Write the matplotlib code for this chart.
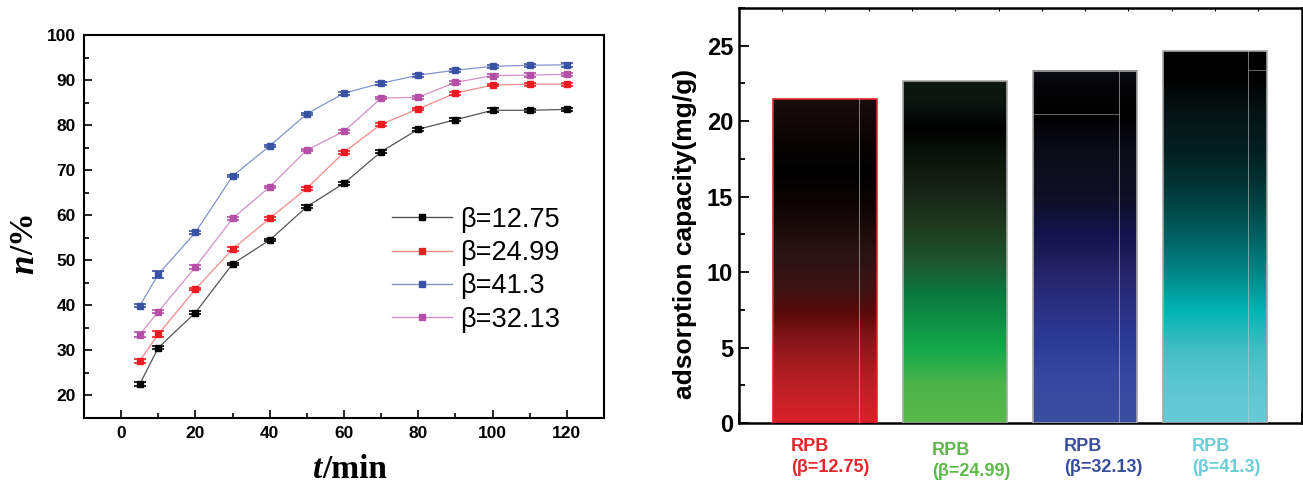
import numpy as np
import matplotlib
matplotlib.use("Agg")
import matplotlib.pyplot as plt
from matplotlib.ticker import MultipleLocator
from matplotlib.colors import to_rgba
from matplotlib.lines import Line2D

# ---------------- data ----------------
time_min = [5, 10, 20, 30, 40, 50, 60, 70, 80, 90, 100, 110, 120]
eta_1275 = [22.5, 30.6, 38.4, 49.2, 54.5, 61.9, 67.1, 74.1, 79.1, 81.2, 83.3, 83.3, 83.5]
eta_2499 = [27.7, 33.6, 43.6, 52.5, 59.3, 66.0, 74.0, 80.2, 83.6, 87.1, 88.9, 89.1, 89.1]
eta_413 = [39.9, 46.9, 56.2, 68.7, 75.4, 82.5, 87.1, 89.3, 91.1, 92.2, 93.05, 93.3, 93.4]
eta_3213 = [33.5, 38.6, 48.5, 59.3, 66.3, 74.5, 78.6, 86.0, 86.2, 89.5, 91.0, 91.1, 91.3]
err_1275 = [0.5, 0.3, 0.3, 0.3, 0.3, 0.3, 0.3, 0.3, 0.3, 0.3, 0.4, 0.3, 0.4]
err_2499 = [0.4, 0.6, 0.3, 0.4, 0.3, 0.3, 0.3, 0.3, 0.3, 0.3, 0.3, 0.3, 0.3]
err_413 = [0.3, 0.8, 0.3, 0.3, 0.3, 0.3, 0.3, 0.3, 0.3, 0.3, 0.4, 0.3, 0.4]
err_3213 = [0.5, 0.3, 0.5, 0.3, 0.3, 0.3, 0.3, 0.3, 0.3, 0.3, 0.4, 0.4, 0.3]
series_labels = ["β=12.75", "β=24.99", "β=41.3", "β=32.13"]

bar_labels = ["RPB\n(β=12.75)", "RPB\n(β=24.99)", "RPB\n(β=32.13)", "RPB\n(β=41.3)"]
capacity = [21.45, 22.63, 23.35, 24.63]

# ---------------- style ----------------
SANS = ["Liberation Sans", "DejaVu Sans"]
SERIF = ["Liberation Serif", "DejaVu Serif"]
plt.rcParams["font.family"] = SANS

marker_cols = ["#000000", "#ed1c24", "#3a52a4", "#b44ea6"]
line_cols = ["#555555", "#f58a8a", "#8393cc", "#d38fcb"]

fig = plt.figure(figsize=(13.03, 4.87), dpi=100)

# ---------------- left panel ----------------
ax1 = fig.add_axes([0.0645, 0.1417, 0.399, 0.7863])
ys = [eta_1275, eta_2499, eta_413, eta_3213]
es = [err_1275, err_2499, err_413, err_3213]
handles = []
for y, e, mc, lc, lab in zip(ys, es, marker_cols, line_cols, series_labels):
    ax1.plot(time_min, y, color=lc, lw=0.9, zorder=2)
    ax1.errorbar(time_min, y, yerr=e, fmt="s", ms=4.5, color=mc, ecolor=mc,
                 elinewidth=1.0, capsize=4, capthick=1.2, zorder=3)
    handles.append(Line2D([], [], color=lc, lw=1.0, marker="s", ms=5,
                          markerfacecolor=mc, markeredgecolor=mc))
ax1.set_xlim(-10, 130)
ax1.set_ylim(15, 100)
ax1.xaxis.set_major_locator(MultipleLocator(20))
ax1.xaxis.set_minor_locator(MultipleLocator(10))
ax1.yaxis.set_major_locator(MultipleLocator(10))
ax1.yaxis.set_minor_locator(MultipleLocator(5))
ax1.tick_params(which="both", direction="in", width=1.2)
ax1.tick_params(which="major", length=6, labelsize=12.5, pad=6)
ax1.tick_params(which="minor", length=3.5)
for lb in ax1.get_xticklabels() + ax1.get_yticklabels():
    lb.set_fontweight("bold")
for s in ax1.spines.values():
    s.set_linewidth(1.5)

# axis titles built with mixed italic
fig.text(0.2475, 0.018, "t", fontsize=24, fontweight="bold", style="italic",
         family=SERIF, ha="right", va="baseline")
fig.text(0.2475, 0.018, "/min", fontsize=24, fontweight="bold",
         family=SERIF, ha="left", va="baseline")
fig.text(0.019, 0.477, "n", fontsize=25, fontweight="bold", style="italic",
         family=SERIF, rotation=90, ha="center", va="top")
fig.text(0.019, 0.477, "/%", fontsize=24, fontweight="bold",
         family=SERIF, rotation=90, ha="center", va="bottom")

leg = ax1.legend(handles, series_labels, loc="upper left",
                 bbox_to_anchor=(0.572, 0.58), frameon=False, fontsize=19.5,
                 handlelength=2.2, handletextpad=0.3, labelspacing=0.27,
                 borderaxespad=0)

# ---------------- right panel ----------------
ax2 = fig.add_axes([0.567, 0.1314, 0.432, 0.8522])
xpos = np.arange(1, len(capacity) + 1)
edge_cols = ["#e0242c", "#a8a8a8", "#a8a8a8", "#a8a8a8"]
bars = ax2.bar(xpos, capacity, width=0.8, color="none", edgecolor=edge_cols,
               linewidth=1.2, zorder=3)

grad_stops = [
    [(0, "#d9222a"), (3, "#b41e24"), (5.5, "#86161a"), (7.3, "#5a0a0a"),
     (9, "#3c1414"), (11.5, "#261212"), (14, "#120606"), (16.5, "#000000"),
     (18.5, "#080404"), (21.5, "#1c0c0e")],
    [(0, "#5ab94a"), (2.5, "#4cb44a"), (5, "#12a84a"), (7, "#0e8c45"),
     (8.5, "#0a7a3f"), (10.5, "#1d5830"), (13, "#1f3a1f"), (16, "#141e14"),
     (18, "#0a100a"), (19.5, "#000000"), (21, "#0a120e"), (22.7, "#0f1a12")],
    [(0, "#3a4ea0"), (3, "#36489e"), (5, "#2c3d98"), (8, "#2a2e80"),
     (10, "#242466"), (12.5, "#14124a"), (15, "#0f0f24"), (18, "#0c0c18"),
     (20.5, "#000000"), (22.3, "#050508"), (23.4, "#0c0c16")],
    [(0, "#68ccd8"), (3, "#58c5cd"), (5, "#40bdc2"), (7.5, "#00b4b4"),
     (9, "#009696"), (11.5, "#006e6e"), (14, "#004a4a"), (16, "#033232"),
     (18, "#041f1f"), (20.5, "#061414"), (23, "#000000"), (24.7, "#000000")],
]

for b, stops in zip(bars, grad_stops):
    x0, w, h = b.get_x(), b.get_width(), b.get_height()
    yy = np.linspace(0, h, 400)
    sv = np.array([s[0] for s in stops])
    cols = np.array([to_rgba(s[1]) for s in stops])
    img = np.zeros((len(yy), 1, 4))
    for k in range(4):
        img[:, 0, k] = np.interp(yy, sv, cols[:, k])
    ax2.imshow(img, extent=[x0, x0 + w, 0, h], origin="lower", aspect="auto",
               interpolation="bilinear", zorder=2)

# thin light seams inside some bars (as in the original artwork)
seam_frac = [0.82, None, 0.83, 0.82]
for b, f in zip(bars, seam_frac):
    if f is None:
        continue
    x0, w, h = b.get_x(), b.get_width(), b.get_height()
    ax2.plot([x0 + f * w] * 2, [0, h], color="#c8c8c8", lw=0.7, alpha=0.6, zorder=4)
b = bars[2]
ax2.plot([b.get_x(), b.get_x() + 0.83 * b.get_width()], [0.878 * b.get_height()] * 2,
         color="#aaaaaa", lw=0.7, alpha=0.6, zorder=4)
b = bars[3]
ax2.plot([b.get_x() + 0.82 * b.get_width(), b.get_x() + b.get_width()],
         [0.95 * b.get_height()] * 2, color="#aaaaaa", lw=0.7, alpha=0.6, zorder=4)

ax2.set_xlim(1 / 3, 4 + 2 / 3)
ax2.set_ylim(0, 27.5)
ax2.xaxis.set_major_locator(MultipleLocator(1 / 3))
ax2.yaxis.set_major_locator(MultipleLocator(5))
ax2.yaxis.set_minor_locator(MultipleLocator(2.5))
ax2.tick_params(axis="x", which="both", direction="in", length=7, width=1.3,
                labelbottom=False, top=True)
ax2.tick_params(axis="y", which="both", direction="in", width=1.3)
ax2.tick_params(axis="y", which="major", length=7, labelsize=17, pad=4)
ax2.tick_params(axis="y", which="minor", length=4)
for t in ax2.xaxis.get_major_ticks():
    t.tick2line.set_markersize(2.5)
    t.tick2line.set_markeredgewidth(0.8)
for lb in ax2.get_yticklabels():
    lb.set_fontweight("bold")
for s in ax2.spines.values():
    s.set_linewidth(1.8)
ax2.set_ylabel("adsorption capacity(mg/g)", fontsize=19, fontweight="bold")
ax2.yaxis.set_label_coords(-0.075, 0.455)

label_cols = ["#e8242c", "#5cb94a", "#3a4ea0", "#6acdd8"]
label_dx = [-0.265, -0.18, -0.165, -0.18]
label_dy = [-1.0, -1.25, -1.0, -1.0]
for xp, lab, c, dx, dy in zip(xpos, bar_labels, label_cols, label_dx, label_dy):
    ax2.text(xp + dx, dy, lab, color=c, fontsize=13, fontweight="bold",
             ha="left", va="top", linespacing=1.3, clip_on=False)

fig.savefig("out.png", dpi=100)
